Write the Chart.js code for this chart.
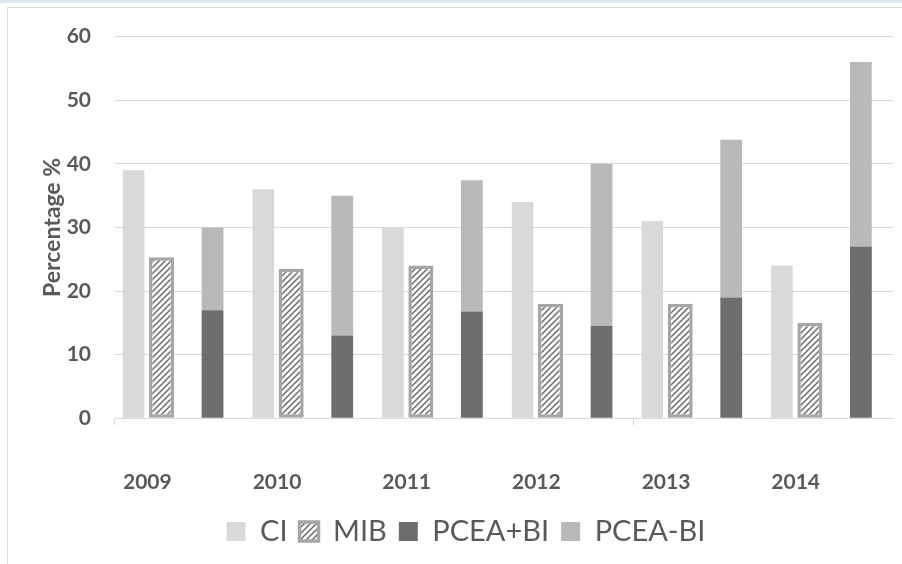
<!DOCTYPE html>
<html>
<head>
<meta charset="utf-8">
<script src="https://cdn.jsdelivr.net/npm/chart.js@4.4.1/dist/chart.umd.min.js"></script>
<style>
  html, body { margin: 0; padding: 0; background: #fff; }
  #wrap { position: relative; width: 902px; height: 564px; overflow: hidden; }
  #topline { position: absolute; left: 0; top: 0; width: 902px; height: 3px; background: #dfe7f2; }
  #frame { position: absolute; left: 7px; top: 7px; width: 1000px; height: 1000px; border: 1px solid #d9d9d9; }
  #c { position: absolute; left: 0; top: 0; }
</style>
</head>
<body>
<div id="wrap">
  <div id="topline"></div>
  <div id="frame"></div>
  <canvas id="c" width="902" height="564"></canvas>
</div>
<script>
// Years on the category axis
const years = ['2009', '2010', '2011', '2012', '2013', '2014'];

// Percentages per year
const ci          = [39, 36, 30, 34, 31, 24];
const mib         = [25.3, 23.5, 24, 18, 18, 15];
const pceaPlusBi  = [17, 13, 16.8, 14.5, 19, 27];
const pceaMinusBi = [13, 22, 20.6, 25.5, 24.8, 29];

// Value axis range
const yMin = 0, yMax = 60, yStep = 10;

const TEXT = '#595959';
const FONT = 'Lato, "Open Sans", sans-serif';

const canvas = document.getElementById('c');
const ctx = canvas.getContext('2d');

// Diagonal hatch fill for the MIB bars
function makeHatch() {
  const s = 6;
  const t = document.createElement('canvas');
  t.width = s; t.height = s;
  const g = t.getContext('2d');
  g.fillStyle = '#ffffff';
  g.fillRect(0, 0, s, s);
  g.strokeStyle = '#6b6b6b';
  g.lineWidth = 1.5;
  g.beginPath();
  g.moveTo(-1, s + 1); g.lineTo(s + 1, -1);
  g.moveTo(-1, 1); g.lineTo(1, -1);
  g.moveTo(s - 1, s + 1); g.lineTo(s + 1, s - 1);
  g.stroke();
  return ctx.createPattern(t, 'repeat');
}
const hatch = makeHatch();

new Chart(ctx, {
  type: 'bar',
  data: {
    labels: years,
    datasets: [
      {
        label: 'CI', data: ci, stack: 'ci',
        backgroundColor: '#d9d9d9',
        categoryPercentage: 0.9506, barPercentage: 0.701
      },
      {
        label: 'MIB', data: mib, stack: 'mib',
        backgroundColor: hatch, borderColor: '#a6a6a6', borderWidth: 3.5, borderSkipped: false,
        categoryPercentage: 1.1296, barPercentage: 0.683
      },
      {
        // empty slot between the MIB bar and the PCEA column
        label: '', data: [], stack: 'gap'
      },
      {
        label: 'PCEA+BI', data: pceaPlusBi, stack: 'pcea',
        backgroundColor: '#6e6e6e',
        categoryPercentage: 0.6728, barPercentage: 1.0
      },
      {
        label: 'PCEA-BI', data: pceaMinusBi, stack: 'pcea',
        backgroundColor: '#b9b9b9',
        categoryPercentage: 0.6728, barPercentage: 1.0
      }
    ]
  },
  options: {
    responsive: false,
    animation: false,
    layout: { padding: { left: 39, right: 9, top: 33, bottom: 8 } },
    plugins: {
      tooltip: { enabled: false },
      legend: {
        position: 'bottom',
        labels: {
          filter: (item) => item.text !== '',
          boxWidth: 19, boxHeight: 19,
          padding: 12,
          color: TEXT,
          font: { family: FONT, size: 29 }
        }
      }
    },
    scales: {
      x: {
        grid: {
          offset: true,
          drawOnChartArea: false,
          tickLength: 7,
          color: (c) => (c.index === 0 || c.index === 4) ? '#d9d9d9' : 'rgba(0,0,0,0)'
        },
        border: { display: true, color: '#d9d9d9', width: 1 },
        ticks: {
          labelOffset: -32.5,
          padding: 44,
          color: TEXT,
          font: { family: FONT, size: 21, weight: 'bold' }
        },
        afterFit: (s) => { s.height = 86.7; }
      },
      y: {
        min: yMin, max: yMax,
        ticks: {
          stepSize: yStep,
          padding: 24,
          color: TEXT,
          font: { family: FONT, size: 21, weight: 'bold' }
        },
        grid: { color: '#d9d9d9', drawTicks: false },
        border: { display: false },
        title: {
          display: true,
          text: 'Percentage %',
          color: TEXT,
          padding: { top: 0, bottom: 2 },
          font: { family: FONT, size: 23, weight: 'bold' }
        },
        afterFit: (s) => { s.width = 76; }
      }
    }
  }
});
</script>
</body>
</html>
